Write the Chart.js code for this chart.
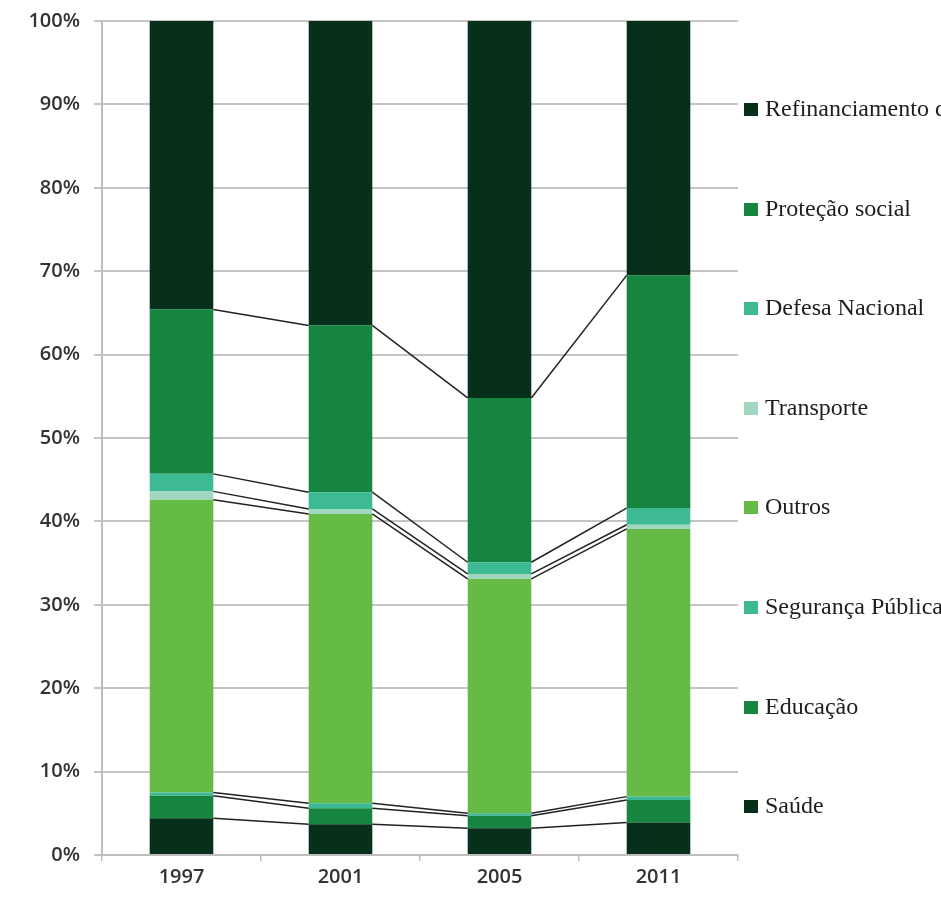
<!DOCTYPE html>
<html>
<head>
<meta charset="utf-8">
<script src="https://cdn.jsdelivr.net/npm/chart.js@4/dist/chart.umd.min.js"></script>
<style>
  html, body { margin: 0; padding: 0; background: #fff; overflow: hidden; }
  #wrap { position: relative; width: 941px; height: 898px; }
  #legend { position: absolute; left: 744px; top: 0; width: 197px; height: 898px; overflow: hidden; }
  .item { position: absolute; left: 0; white-space: nowrap; font-family: "Liberation Serif", "DejaVu Serif", serif;
          font-size: 24px; color: #1e1e1e; line-height: 26px; height: 26px; }
  .item span.box { display: inline-block; width: 14px; height: 13px; margin-right: 7px; vertical-align: 0px; }
</style>
</head>
<body>
<div id="wrap">
  <canvas id="despesas" width="941" height="898"></canvas>
  <div id="legend"></div>
</div>
<script>
const anos = ['1997', '2001', '2005', '2011'];

// percentage share of each area, bottom to top
const saude      = [4.4, 3.7, 3.2, 3.9];
const educacao   = [2.7, 1.9, 1.5, 2.7];
const seguranca  = [0.4, 0.6, 0.3, 0.4];
const outros     = [35.1, 34.7, 28.1, 32.1];
const transporte = [1.0, 0.6, 0.6, 0.5];
const defesa     = [2.1, 2.0, 1.4, 2.0];
const protecao   = [19.7, 20.0, 19.7, 27.9];
const refinanc   = [34.6, 36.5, 45.2, 30.5];

const yTicks = [0, 10, 20, 30, 40, 50, 60, 70, 80, 90, 100];

const escuro = '#06301a';
const verde  = '#158540';
const agua   = '#3dba94';
const claro  = '#a0d7be';
const lima   = '#66bb47';

const series = [
  { label: 'Saúde', data: saude, color: escuro },
  { label: 'Educação', data: educacao, color: verde },
  { label: 'Segurança Pública', data: seguranca, color: agua },
  { label: 'Outros', data: outros, color: lima },
  { label: 'Transporte', data: transporte, color: claro },
  { label: 'Defesa Nacional', data: defesa, color: agua },
  { label: 'Proteção social', data: protecao, color: verde },
  { label: 'Refinanciamento da dívida', data: refinanc, color: escuro }
];

// lines joining the top of each segment to the same segment in the next bar
const seriesLines = {
  id: 'seriesLines',
  afterDatasetsDraw(chart) {
    const ctx = chart.ctx;
    ctx.save();
    ctx.strokeStyle = '#222';
    ctx.lineWidth = 1.5;
    const n = chart.data.datasets.length;
    for (let i = 0; i < n - 1; i++) {
      const bars = chart.getDatasetMeta(i).data;
      for (let j = 0; j < bars.length - 1; j++) {
        const a = bars[j], b = bars[j + 1];
        ctx.beginPath();
        ctx.moveTo(a.x + a.width / 2, a.y);
        ctx.lineTo(b.x - b.width / 2, b.y);
        ctx.stroke();
      }
    }
    ctx.restore();
  }
};

const chart = new Chart(document.getElementById('despesas'), {
  type: 'bar',
  data: {
    labels: anos,
    datasets: series.map(s => ({
      label: s.label,
      data: s.data,
      backgroundColor: s.color,
      borderWidth: 0,
      barPercentage: 0.4,
      categoryPercentage: 1
    }))
  },
  options: {
    responsive: false,
    animation: false,
    layout: { padding: { top: 21, right: 203, left: 0, bottom: 0 } },
    plugins: { legend: { display: false }, tooltip: { enabled: false } },
    scales: {
      x: {
        stacked: true,
        afterFit(scale) { scale.height = 43; },
        grid: { offset: true, drawOnChartArea: false, tickLength: 6, color: '#bdbdbd', lineWidth: 1.5 },
        border: { color: '#bdbdbd', width: 2 },
        ticks: { color: '#333', font: { family: 'Open Sans', size: 20, weight: '600' }, padding: 4 }
      },
      y: {
        stacked: true,
        min: 0,
        max: 100,
        afterFit(scale) {
          scale.width = 102;
          scale.paddingTop = 0;
          scale.paddingBottom = 0;
        },
        afterBuildTicks(scale) { scale.ticks = yTicks.map(v => ({ value: v })); },
        grid: { color: '#c4c4c4', lineWidth: 2, tickLength: 8 },
        border: { color: '#bdbdbd', width: 2 },
        ticks: { color: '#333', font: { family: 'Open Sans', size: 20, weight: '600' }, padding: 14,
                 callback: v => v + '%' }
      }
    }
  },
  plugins: [seriesLines]
});

// legend on the right, top entry first
const legend = document.getElementById('legend');
const ordem = series.slice().reverse();
ordem.forEach((s, k) => {
  const el = document.createElement('div');
  el.className = 'item';
  el.style.top = (95 + k * 99.6) + 'px';
  el.innerHTML = '<span class="box" style="background:' + s.color + '"></span>' + s.label;
  legend.appendChild(el);
});
</script>
</body>
</html>
